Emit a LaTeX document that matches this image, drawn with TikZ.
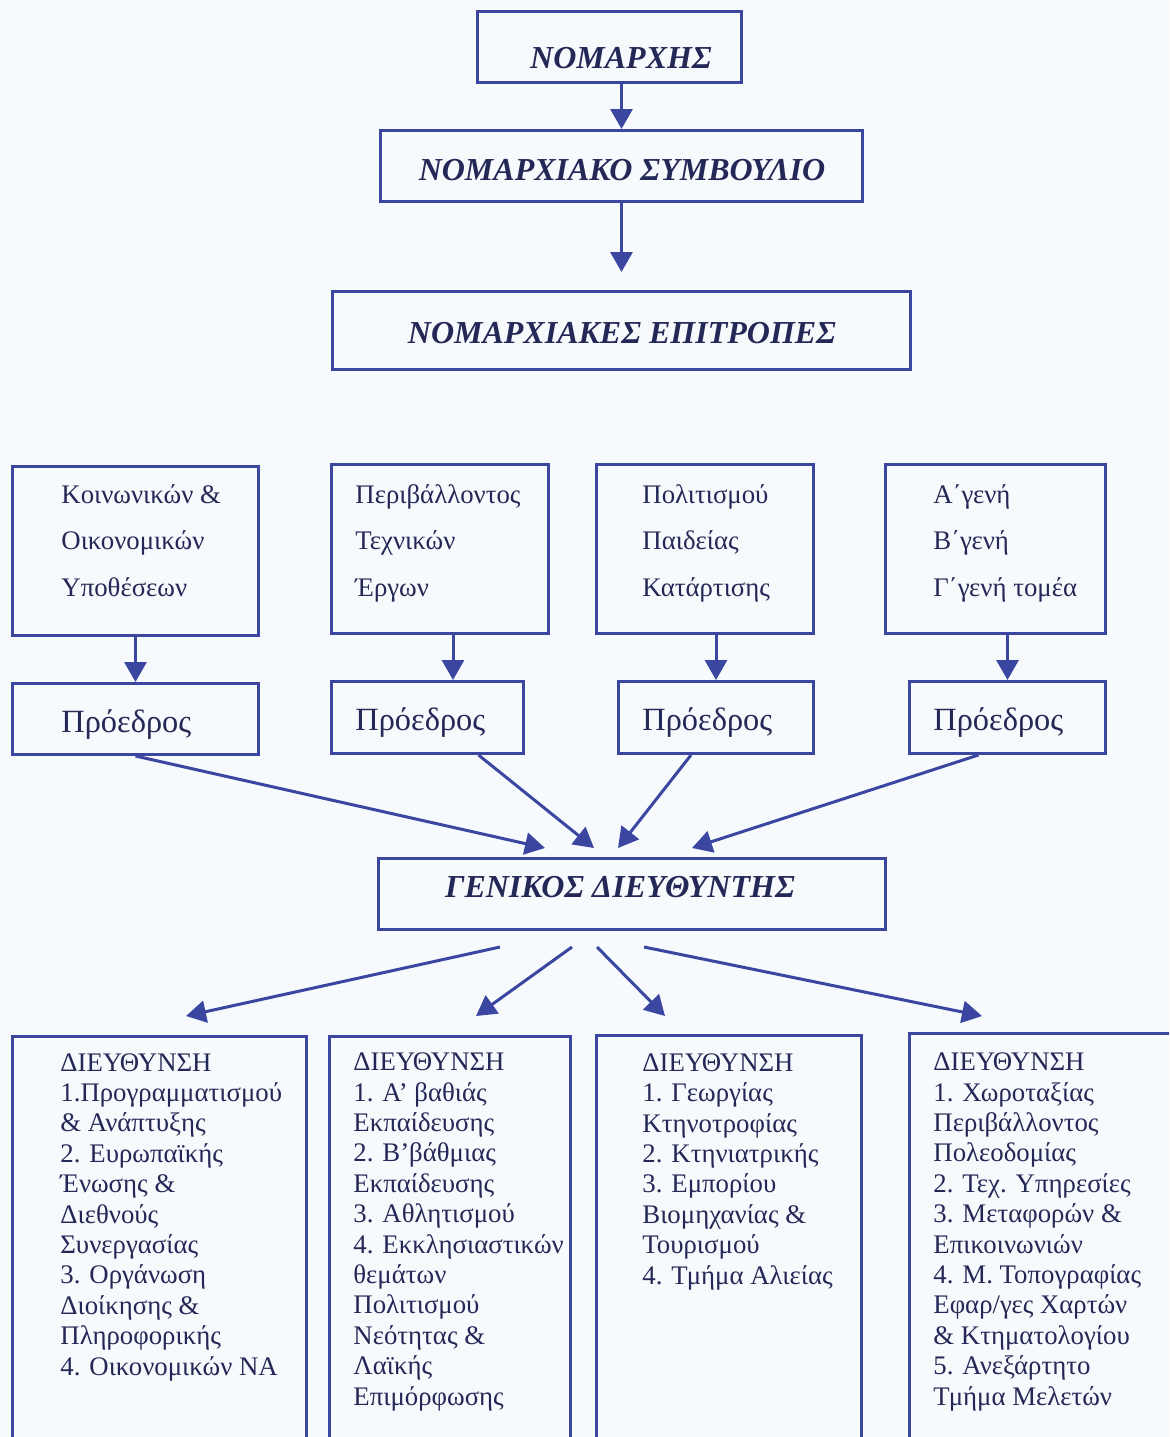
\documentclass[tikz,border=0pt]{standalone}
\usepackage{fontspec}
\setmainfont{Liberation Serif}
\usetikzlibrary{arrows.meta,calc}
\definecolor{linecol}{RGB}{58,70,160}
\definecolor{txtcol}{RGB}{36,40,86}
\definecolor{paper}{RGB}{247,250,253}
\tikzset{
  box/.style={draw=linecol, line width=1.5pt, inner sep=0pt, anchor=north west},
  sz/.style 2 args={minimum width=#1*0.5pt, minimum height=#2*0.5pt},
  arr/.style={draw=linecol, line width=1.5pt, -{Triangle[length=10pt,width=11pt]}},
  head/.style={text=txtcol, inner sep=0pt, anchor=base, font=\fontsize{16}{19}\selectfont\bfseries\itshape},
  ctext/.style={text=txtcol, inner sep=0pt, anchor=base west, align=left, font=\fontsize{13.4}{23.25}\selectfont},
  ptext/.style={text=txtcol, inner sep=0pt, anchor=base west, font=\fontsize{16.2}{19}\selectfont},
  dtext/.style={text=txtcol, inner sep=0pt, anchor=base west, align=left, font=\fontsize{13.4}{15.2}\selectfont}
}
\begin{document}
\begin{tikzpicture}[x=0.5pt,y=-0.5pt]
\useasboundingbox (0,0) rectangle (1169,1437);
\clip (0,0) rectangle (1169,1437);
\fill[paper] (0,0) rectangle (1169,1437);

% top of the chart
\node[box, sz={264}{71}] (n1) at (476,10) {};
\node[box, sz={482}{71}] (n2) at (379,129) {};
\node[box, sz={578}{78}] (n3) at (331,290) {};
\node[head] (n1t) at (621,68) {ΝΟΜΑΡΧΗΣ};
\node[head] (n2t) at (622,180) {ΝΟΜΑΡΧΙΑΚΟ ΣΥΜΒΟΥΛΙΟ};
\node[head] (n3t) at (622,343) {ΝΟΜΑΡΧΙΑΚΕΣ ΕΠΙΤΡΟΠΕΣ};
\draw[arr] (n1.south -| n2.north) -- (n2.north);
\draw[arr, shorten >=9pt] (n2.south) -- (n3.north);

% committees (base = last line)
\node[box, sz={246}{169}] (c1) at (11,465) {};
\node[box, sz={217}{169}] (c2) at (330,463) {};
\node[box, sz={217}{169}] (c3) at (595,463) {};
\node[box, sz={220}{169}] (c4) at (884,463) {};
\node[ctext] (c1t) at (61,596) {Κοινωνικών \&\\Οικονομικών\\Υποθέσεων};
\node[ctext] (c2t) at (355,596) {Περιβάλλοντος\\Τεχνικών\\Έργων};
\node[ctext] (c3t) at (642,596) {Πολιτισμού\\Παιδείας\\Κατάρτισης};
\node[ctext] (c4t) at (933,596) {Α΄γενή\\Β΄γενή\\Γ΄γενή τομέα};

% chairmen
\node[box, sz={246}{71}] (p1) at (11,682) {};
\node[box, sz={192}{72}] (p2) at (330,680) {};
\node[box, sz={195}{72}] (p3) at (617,680) {};
\node[box, sz={196}{72}] (p4) at (908,680) {};
\foreach \i/\x/\y in {1/61/732,2/355/730,3/642/730,4/933/730} {
  \node[ptext] (p\i t) at (\x,\y) {Πρόεδρος};
}
\draw[arr] (c1.south) -- (p1.north);
\draw[arr] ($(c2.south)+(13,0)$) coordinate (c2a) -- (c2a |- p2.north);
\draw[arr] (c3.south -| p3.north) -- (p3.north);
\draw[arr] (c4.south -| p4.north) -- (p4.north);

% general director
\node[box, sz={507}{71}] (g) at (377,857) {};
\node[head] (gt) at (620,897) {ΓΕΝΙΚΟΣ ΔΙΕΥΘΥΝΤΗΣ};
\coordinate (gin1) at (545,848);
\coordinate (gin2) at (594,848);
\coordinate (gin3) at (618,848);
\coordinate (gin4) at (692,848);
\draw[arr] (p1.south) -- (gin1);
\draw[arr] ($(p2.south)+(51,0)$) -- (gin2);
\draw[arr] ($(p3.south)+(-25,0)$) -- (gin3);
\draw[arr] ($(p4.south)+(-29,0)$) -- (gin4);

% directorates (base = last line)
\node[box, sz={294}{450}] (d1) at (11,1035) {};
\node[box, sz={241}{450}] (d2) at (328,1035) {};
\node[box, sz={265}{450}] (d3) at (595,1034) {};
\node[box, sz={320}{450}] (d4) at (908,1032) {};
\foreach \i/\sx/\tx in {1/-132/186,2/-60/476,3/-35/665,4/12/982} {
  \coordinate (gout\i) at ($(g.south)+(\sx,16)$);
  \coordinate (din\i) at (\tx,1016);
  \draw[arr] (gout\i) -- (din\i);
}
\node[dtext] (d1t) at (60,1375) {ΔΙΕΥΘΥΝΣΗ\\1.Προγραμματισμού\\\& Ανάπτυξης\\2. Ευρωπαϊκής\\Ένωσης \&\\Διεθνούς\\Συνεργασίας\\3. Οργάνωση\\Διοίκησης \&\\Πληροφορικής\\4. Οικονομικών ΝΑ};
\node[dtext] (d2t) at (353,1405) {ΔΙΕΥΘΥΝΣΗ\\1. Α’ βαθιάς\\Εκπαίδευσης\\2. Β’βάθμιας\\Εκπαίδευσης\\3. Αθλητισμού\\4. Εκκλησιαστικών\\θεμάτων\\Πολιτισμού\\Νεότητας \&\\Λαϊκής\\Επιμόρφωσης};
\node[dtext] (d3t) at (642,1284) {ΔΙΕΥΘΥΝΣΗ\\1. Γεωργίας\\Κτηνοτροφίας\\2. Κτηνιατρικής\\3. Εμπορίου\\Βιομηχανίας \&\\Τουρισμού\\4. Τμήμα Αλιείας};
\node[dtext] (d4t) at (933,1405) {ΔΙΕΥΘΥΝΣΗ\\1. Χωροταξίας\\Περιβάλλοντος\\Πολεοδομίας\\2. Τεχ. Υπηρεσίες\\3. Μεταφορών \&\\Επικοινωνιών\\4. Μ. Τοπογραφίας\\Εφαρ/γες Χαρτών\\\& Κτηματολογίου\\5. Ανεξάρτητο\\Τμήμα Μελετών};
\end{tikzpicture}
\end{document}
